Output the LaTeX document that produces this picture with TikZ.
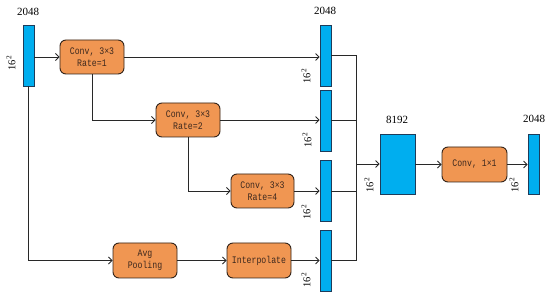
\documentclass[tikz,border=0pt]{standalone}
\usepackage{fontspec}
\setmainfont{Liberation Serif}
\newfontfamily\boxfont[FakeStretch=0.82]{Liberation Mono}
\usetikzlibrary{arrows.meta}
\definecolor{barblue}{RGB}{0,174,239}
\definecolor{barline}{RGB}{30,60,90}
\definecolor{boxorange}{RGB}{240,150,82}
\definecolor{boxline}{RGB}{50,35,25}
\definecolor{wire}{RGB}{40,40,40}
\definecolor{boxtext}{RGB}{60,40,30}
\begin{document}
\begin{tikzpicture}[x=1pt,y=-1pt,
  bar/.style={draw=barline,line width=0.8pt,fill=barblue,inner sep=0pt,minimum width=11pt,minimum height=61pt},
  opbox/.style={draw=boxline,line width=0.9pt,fill=boxorange,rounded corners=6pt,minimum width=64pt,minimum height=34pt,inner sep=1pt,align=center,text=boxtext,font=\boxfont\fontsize{10}{12}\selectfont},
  wirel/.style={draw=wire,line width=0.8pt},
  arr/.style={wirel,-{Straight Barb[length=3.5pt,width=7pt]}},
  num/.style={font=\fontsize{11}{12}\selectfont,inner sep=0pt},
  dim/.style={font=\fontsize{10.5}{12}\selectfont,inner sep=0pt,rotate=90}]
\useasboundingbox (0,0) rectangle (550,296);
% bars
\node[bar] (in) at (28.5,55.5) {};
\node[bar] (b1) at (325.5,55.5) {};
\node[bar] (b2) at (325.5,120.5) {};
\node[bar] (b3) at (325.5,191) {};
\node[bar] (b4) at (325.5,260.5) {};
\node[bar,minimum width=35pt,minimum height=60pt] (big) at (397.5,164) {};
\node[bar,minimum height=60pt] (out) at (533.5,164) {};
% boxes
\node[opbox] (c1) at (92,57) {Conv, 3×3\\Rate=1};
\node[opbox] (c2) at (188,120) {Conv, 3×3\\Rate=2};
\node[opbox,minimum width=63pt] (c4) at (262.5,191) {Conv, 3×3\\Rate=4};
\node[opbox,minimum height=35pt] (ap) at (145,260.5) {Avg\\Pooling};
\node[opbox,minimum height=35pt] (ip) at (259,260.5) {Interpolate};
\node[opbox,minimum width=65pt,minimum height=35pt] (c11) at (474.5,164.5) {Conv, 1×1};
% labels
\node[num] (l0) at (28,12) {2048};
\node[num] (l1) at (325,11) {2048};
\node[num] (l2) at (397,120) {8192};
\node[num] (l3) at (534,119) {2048};
\node[dim] (d0) at (11,63) {16\textsuperscript{2}};
\node[dim] (d1) at (306,76) {16\textsuperscript{2}};
\node[dim] (d2) at (307,140) {16\textsuperscript{2}};
\node[dim] (d3) at (306,212) {16\textsuperscript{2}};
\node[dim] (d4) at (306,280) {16\textsuperscript{2}};
\node[dim] (d5) at (369,185) {16\textsuperscript{2}};
\node[dim] (d6) at (514,185) {16\textsuperscript{2}};
% connectors
\coordinate (t1) at (356,55.5);
\coordinate (t4) at (356,260.5);
\coordinate (j) at (356,164);
\draw[arr] (in.east |- c1.west) -- (c1.west);
\draw[arr] (c1.east) -- (b1.west |- c1.east);
\draw[arr] (c1.south) |- (c2.west);
\draw[arr] (c2.east) -- (b2.west |- c2.east);
\draw[arr] (c2.south) |- (c4.west);
\draw[arr] (c4.east) -- (b3.west |- c4.east);
\draw[arr] (in.south) |- (ap.west);
\draw[arr] (ap.east) -- (ip.west);
\draw[arr] (ip.east) -- (b4.west |- ip.east);
\draw[wirel] (b1.east) -- (t1) -- (t4) -- (b4.east);
\draw[wirel] (b2.east) -- (b2.east -| t1);
\draw[wirel] (b3.east) -- (b3.east -| t1);
\draw[arr] (j) -- (big.west |- j);
\draw[arr] (big.east |- c11.west) -- (c11.west);
\draw[arr] (c11.east) -- (out.west |- c11.east);
\end{tikzpicture}
\end{document}
